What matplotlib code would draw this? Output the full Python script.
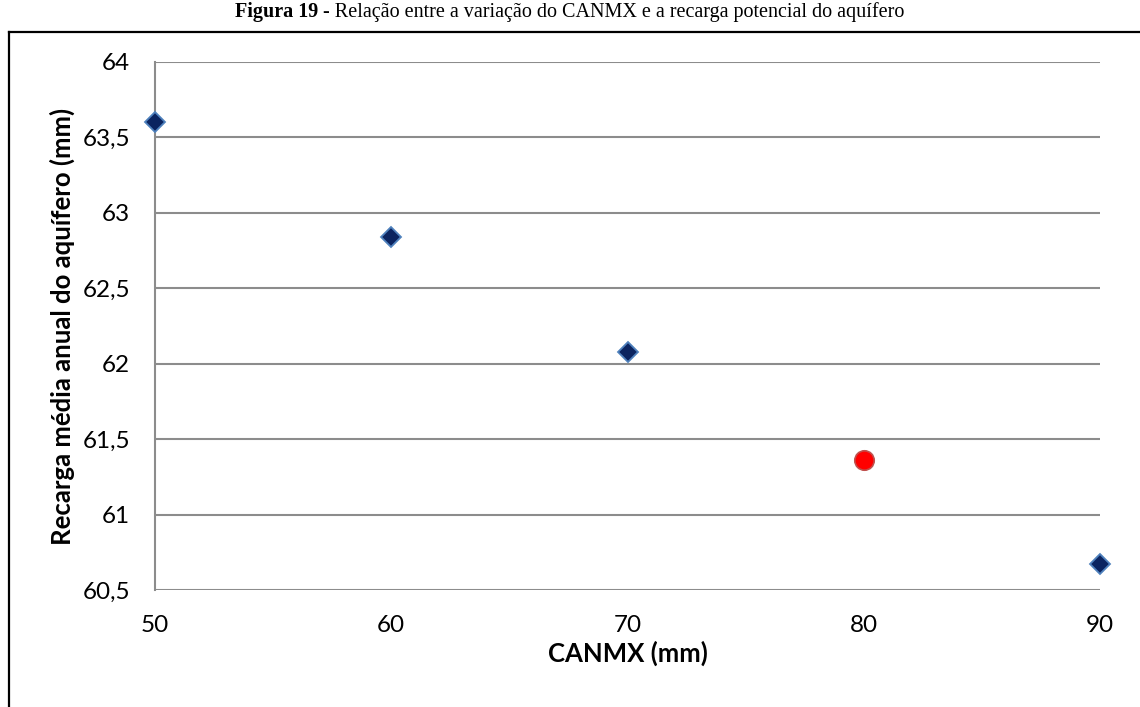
import matplotlib.pyplot as plt
from matplotlib.lines import Line2D
from matplotlib.ticker import FuncFormatter

# dados
canmx = [50, 60, 70, 90]
recarga = [63.60, 62.84, 62.08, 60.67]
canmx_atual = [80]
recarga_atual = [61.36]

yticks = [60.5, 61, 61.5, 62, 62.5, 63, 63.5, 64]
xticks = [50, 60, 70, 80, 90]

W, H = 1140, 707
fig = plt.figure(figsize=(W / 100, H / 100), dpi=100)
fig.patch.set_facecolor('white')

ax = fig.add_axes([155 / W, 1 - 590 / H, (1100 - 155) / W, (590 - 62) / H])

ax.plot(canmx, recarga, linestyle='none', marker='D', markersize=10,
        markerfacecolor='#0b2460', markeredgecolor='#4f81bd', markeredgewidth=1.3,
        clip_on=False, zorder=3)
ax.plot(canmx_atual, recarga_atual, linestyle='none', marker='o', markersize=14,
        markerfacecolor='#ff0000', markeredgecolor='#c0504d', markeredgewidth=1.2,
        clip_on=False, zorder=3)

ax.set_xlim(50, 90)
ax.set_ylim(60.5, 64)
ax.set_xticks(xticks)
ax.set_yticks(yticks)
ax.yaxis.set_major_formatter(FuncFormatter(lambda v, p: ('%g' % v).replace('.', ',')))

ax.grid(axis='y', color='#8c8c8c', linewidth=1.5)
ax.set_axisbelow(True)
for s in ['top', 'right', 'bottom']:
    ax.spines[s].set_visible(False)
ax.spines['left'].set_color('#8c8c8c')
ax.spines['left'].set_linewidth(1.5)

ax.tick_params(length=0, labelsize=17.5)
ax.tick_params(axis='x', pad=18)
ax.tick_params(axis='y', pad=18)
for lab in ax.get_xticklabels() + ax.get_yticklabels():
    lab.set_family('Lato')

ax.set_xlabel('CANMX (mm)', fontsize=18.5, fontweight='bold', family='Lato', va='center')
ax.set_ylabel('Recarga média anual do aquífero (mm)', fontsize=18.5, fontweight='bold',
              family='Lato', va='center')
ax.xaxis.set_label_coords(0.5, (590 - 653) / 528)
ax.yaxis.set_label_coords((62 - 155) / 945, 0.5)

# moldura
fig.add_artist(Line2D([9 / W, 1], [1 - 32 / H, 1 - 32 / H], color='black', linewidth=1.6))
fig.add_artist(Line2D([9 / W, 9 / W], [0, 1 - 32 / H], color='black', linewidth=1.6))

# titulo com parte em negrito
t1 = fig.text(0, 1 - 12 / H, 'Figura 19', fontsize=14.5, fontweight='bold',
              family='Liberation Serif', va='center')
t2 = fig.text(0, 1 - 12 / H, ' - Relação entre a variação do CANMX e a recarga potencial do aquífero',
              fontsize=14.5, family='Liberation Serif', va='center')
r = fig.canvas.get_renderer()
w1 = t1.get_window_extent(r).width
w2 = t2.get_window_extent(r).width
x0 = 570 - (w1 + w2) / 2
t1.set_x(x0 / W)
t2.set_x((x0 + w1) / W)

fig.savefig('out.png', dpi=100)
